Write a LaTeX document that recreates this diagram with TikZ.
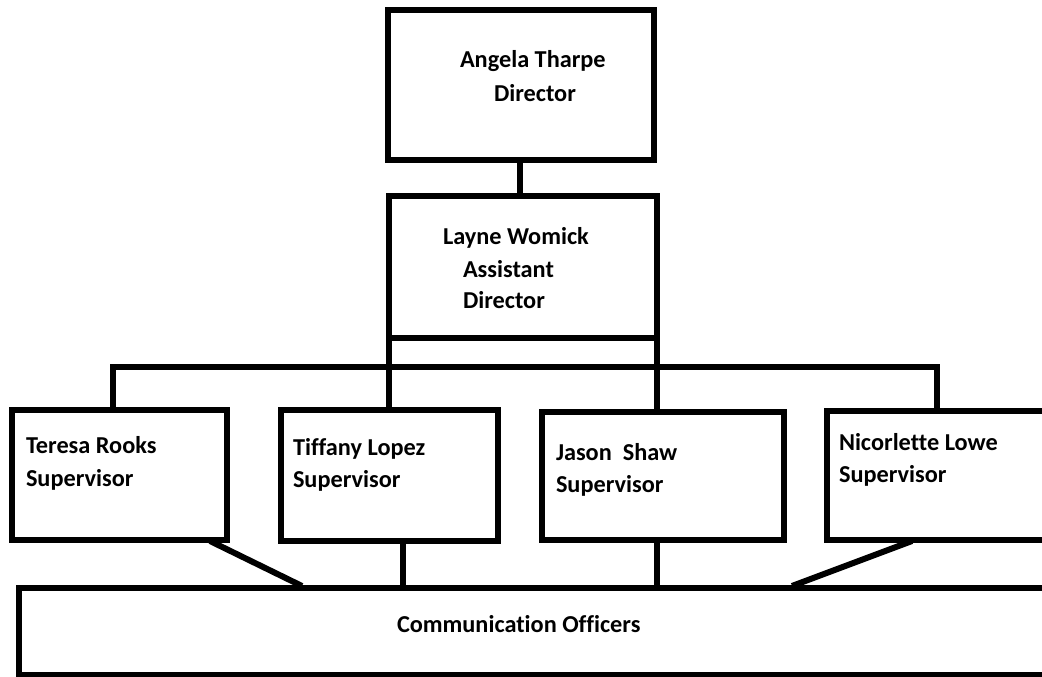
\documentclass[tikz,border=0pt]{standalone}
\usepackage{fontspec}
\setmainfont[Ligatures=NoCommon]{Carlito}
\begin{document}
\begin{tikzpicture}[x=1pt,y=-1pt,
  box/.style={draw=black, line width=6.5pt, rectangle, inner sep=0pt, outer sep=0pt, fill=white},
  lbl/.style={anchor=base west, inner sep=0pt, outer sep=0pt, font=\fontsize{24.3}{29}\selectfont\bfseries},
  conn/.style={draw=black, line width=6pt}]
\useasboundingbox (0,0) rectangle (1042,677);
\begin{scope}
\clip (0,0) rectangle (1042,677);
% boxes
\node[box, minimum width=266pt, minimum height=150pt] (angela) at (521,85) {};
\node[box, minimum width=268pt, minimum height=142pt] (layne) at (523,267) {};
\node[box, minimum width=215pt, minimum height=130pt] (teresa) at (119.5,475) {};
\node[box, minimum width=217pt, minimum height=131pt] (tiffany) at (389.5,475.5) {};
\node[box, minimum width=242pt, minimum height=128pt] (jason) at (663,476) {};
\node[box, minimum width=223pt, minimum height=129pt] (nicor) at (938.5,475.5) {};
\node[box, line width=6pt, minimum width=1031pt, minimum height=87pt] (comm) at (534.5,631.5) {};
% coordinates
\coordinate (barL) at (113,367);
\coordinate (barR) at (937,367);
\coordinate (topc) at (520,160);
\coordinate (tr1) at (210,541);
\coordinate (tr2) at (302,586);
\coordinate (ti1) at (403,541);
\coordinate (ja1) at (657,540);
\coordinate (nl1) at (912,541);
\coordinate (nl2) at (792,586);
% connectors
\draw[conn] (topc |- angela.south) -- (topc |- layne.north);
\draw[conn, line join=miter] (barL |- teresa.north) -- (barL) -- (barR) -- (barR |- nicor.north);
\draw[conn] (layne.south west) -- (layne.south west |- tiffany.north);
\draw[conn] (layne.south east) -- (layne.south east |- jason.north);
\draw[conn] (tr1) -- (tr2);
\draw[conn] (ti1) -- (ti1 |- comm.north);
\draw[conn] (ja1) -- (ja1 |- comm.north);
\draw[conn] (nl1) -- (nl2);
% labels
\node[lbl] (t1) at (460,68) {Angela Tharpe};
\node[lbl] (t2) at (494,101) {Director};
\node[lbl] (t3) at (443,244) {Layne Womick};
\node[lbl] (t4) at (463,277) {Assistant};
\node[lbl] (t5) at (463,308) {Director};
\node[lbl] (t6) at (26,453) {Teresa Rooks};
\node[lbl] (t7) at (26,486) {Supervisor};
\node[lbl] (t8) at (293,455) {Tiffany Lopez};
\node[lbl] (t9) at (293,487) {Supervisor};
\node[lbl] (t10) at (556,460) {Jason\ \ Shaw};
\node[lbl] (t11) at (556,492) {Supervisor};
\node[lbl] (t12) at (839,450) {Nicorlette Lowe};
\node[lbl] (t13) at (839,482) {Supervisor};
\node[lbl] (t14) at (397,632) {Communication Officers};
\end{scope}
\end{tikzpicture}
\end{document}
